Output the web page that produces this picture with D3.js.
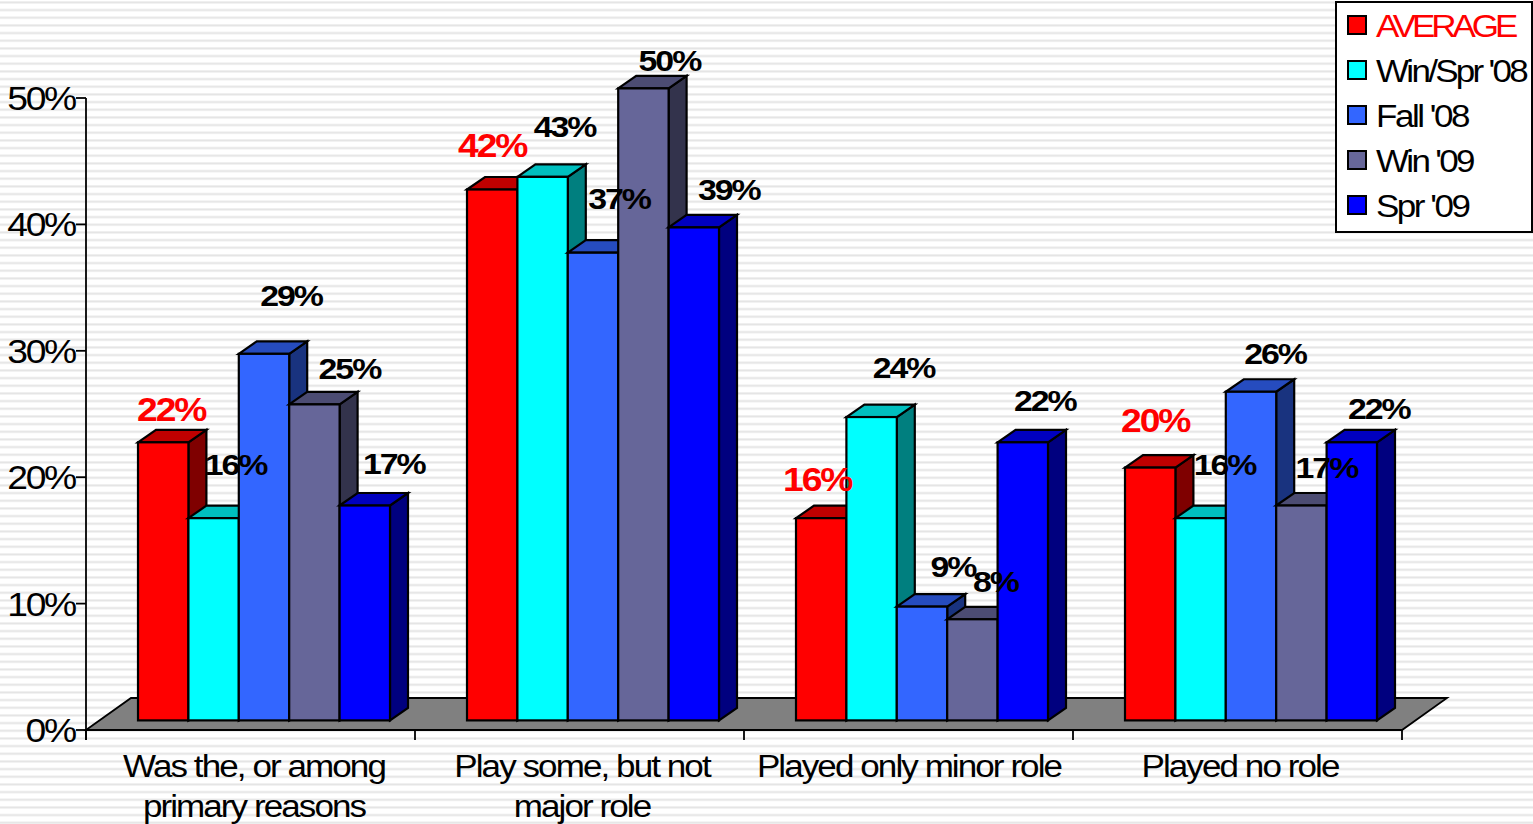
<!DOCTYPE html>
<html><head><meta charset="utf-8">
<style>html,body{margin:0;padding:0;background:#fff;overflow:hidden}svg{display:block}text{font-family:"Liberation Sans",Arial,sans-serif}</style>
<script src="https://cdn.jsdelivr.net/npm/d3@7"></script></head><body>
<svg id="c" width="1533" height="824"></svg>
<script>
const categories=[["Was the, or among","primary reasons"],["Play some, but not","major role"],["Played only minor role"],["Played no role"]];
const seriesNames=["AVERAGE","Win/Spr '08","Fall '08","Win '09","Spr '09"];
const average=[22,42,16,20];
const winSpr08=[16,43,24,16];
const fall08=[29,37,9,26];
const win09=[25,50,8,17];
const spr09=[17,39,22,22];
const yTicks=[0,10,20,30,40,50];
const seriesValues=[average,winSpr08,fall08,win09,spr09];
const colors=["#ff0000","#00ffff","#3366ff","#666699","#0000ff"];
const topColors=["#bf0000","#00bfbf","#264cbf","#4c4c73","#0000bf"];
const sideColors=["#7f0000","#007f7f","#19337f","#33334c","#00007f"];
// label offsets from bar's top centre [series][category]
const labelDx=[[8,0,-4,5],[22,22,32,24],[27,26,31,24],[35,26,23,25],[29,35,22,27]];
const labelDy=[[-32,-43,-38,-46],[-54,-50,-50,-54],[-58,-54,-40,-38],[-36,-28,-38,-38],[-42,-38,-42,-34]];
const legendSpacing=[-3.6,-2.4,-2.2,-2.4,-2.2];

const svg=d3.select("#c");
const defs=svg.append("defs");
const pat=defs.append("pattern").attr("id","stripes").attr("patternUnits","userSpaceOnUse").attr("width",8).attr("height",7.667);
pat.append("rect").attr("width",8).attr("height",7.667).attr("fill","#fff");
pat.append("rect").attr("y",1.4).attr("width",8).attr("height",2).attr("fill","#e4e4e4");
svg.append("rect").attr("width",1533).attr("height",824).attr("fill","url(#stripes)");

const x0=86,x1=1402;
const y=d3.scaleLinear().domain([0,50]).range([730,98]);
const xBand=d3.scaleBand().domain(d3.range(4)).range([x0,x1]);
const barW=50.4, barLeft=52, lift=9.6, dx=18, dy=12.5, sx=1.13;

// floor
const floorDx=45,floorDy=32;
svg.append("path").attr("d",d3.line()([[x0,y(0)],[x0+floorDx,y(0)-floorDy],[x1+floorDx,y(0)-floorDy],[x1,y(0)]])+"Z")
  .attr("fill","#808080").attr("stroke","#000").attr("stroke-width",1.8);

// bars
const g=svg.append("g").attr("stroke","#000").attr("stroke-width",2.2).attr("stroke-linejoin","miter");
categories.forEach((c,ci)=>{
  seriesValues.forEach((vals,si)=>{
    const xl=xBand(ci)+barLeft+si*barW, xr=xl+barW, t=y(vals[ci])-lift, b=y(0)-lift;
    g.append("path").attr("fill",sideColors[si]).attr("d",d3.line()([[xr,t],[xr+dx,t-dy],[xr+dx,b-dy],[xr,b]])+"Z");
    g.append("path").attr("fill",topColors[si]).attr("d",d3.line()([[xl,t],[xl+dx,t-dy],[xr+dx,t-dy],[xr,t]])+"Z");
    g.append("rect").attr("x",xl).attr("y",t).attr("width",barW).attr("height",b-t).attr("fill",colors[si]);
  });
});

// axes
const axisG=svg.append("g").attr("stroke","#000").attr("fill","none");
axisG.append("line").attr("x1",x0).attr("x2",x0).attr("y1",y(50)).attr("y2",y(0)+10).attr("stroke-width",1.8);
axisG.append("line").attr("x1",x0).attr("x2",x1).attr("y1",y(0)).attr("y2",y(0)).attr("stroke-width",2.2);
yTicks.forEach(t=>axisG.append("line").attr("x1",x0-10).attr("x2",x0).attr("y1",y(t)).attr("y2",y(t)).attr("stroke-width",1.8));
d3.range(5).forEach(i=>{const xx=i<4?xBand(i):x1;axisG.append("line").attr("x1",xx).attr("x2",xx).attr("y1",y(0)).attr("y2",y(0)+10).attr("stroke-width",1.8)});

function stext(parent,xx,yy,str,size,anchor,fill,weight,ls){
  return parent.append("text").attr("transform",`translate(${xx},${yy}) scale(${sx},1)`)
    .attr("text-anchor",anchor).attr("font-size",size).attr("fill",fill).attr("font-weight",weight||"normal")
    .attr("letter-spacing",ls).text(str);
}
yTicks.forEach(t=>stext(svg,75,y(t)+12,t+"%",33,"end","#000","normal",-2));
const catCx=[254,582,909,1240];
categories.forEach((c,ci)=>c.forEach((ln,li)=>stext(svg,catCx[ci],777+li*40,ln,31,"middle","#000","normal",-1.7)));

// data labels
seriesValues.forEach((vals,si)=>vals.forEach((v,ci)=>{
  const xc=xBand(ci)+barLeft+si*barW+barW/2, t=y(v)-lift;
  stext(svg,xc+labelDx[si][ci],t+labelDy[si][ci]+10.5,v+"%",si===0?33:30,"middle",si===0?"#ff0000":"#000","bold",-1.8);
}));

// legend
const lg=svg.append("g");
lg.append("rect").attr("x",1336).attr("y",2).attr("width",196).attr("height",230).attr("fill","#fff").attr("stroke","#000").attr("stroke-width",2);
const legY=d3.scalePoint().domain(seriesNames).range([25,205]);
seriesNames.forEach((n,i)=>{
  lg.append("rect").attr("x",1348).attr("y",legY(n)-9).attr("width",18).attr("height",18).attr("fill",colors[i]).attr("stroke","#000").attr("stroke-width",2);
  stext(lg,1376,legY(n)+11.5,n,31,"start",i===0?"#ff0000":"#000","normal",legendSpacing[i]);
});
</script></body></html>
